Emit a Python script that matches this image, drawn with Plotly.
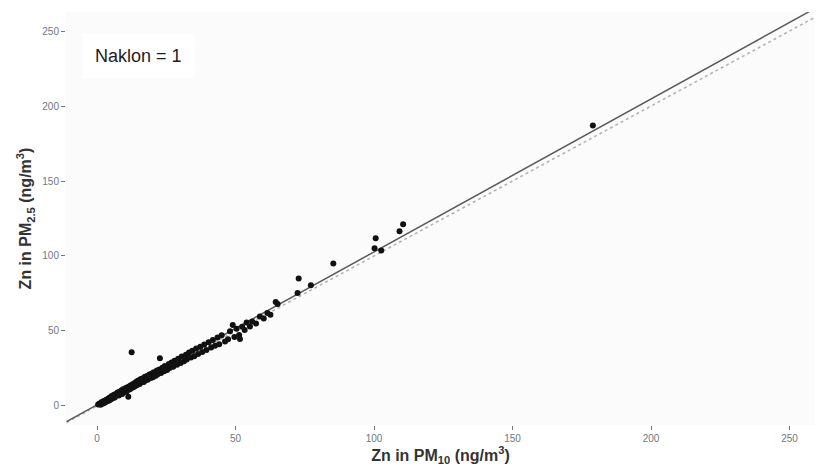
import plotly.graph_objects as go

# Zn concentrations (ng/m3): PM10 (x) vs PM2.5 (y)
zn_pm10 = [
    0.4, 0.9, 1.3, 1.7, 2.0, 2.4, 2.6, 3.1, 3.3, 3.7, 4.1, 4.4, 4.6, 5.1, 5.3, 5.8,
    6.1, 6.4, 6.8, 7.0, 7.4, 7.9, 8.1, 8.5, 8.8, 9.1, 9.4, 9.7, 10.1, 10.4, 10.6, 11.0,
    11.2, 11.3, 11.6, 11.9, 12.2, 12.5, 12.7, 13.0, 13.3, 13.6, 14.0, 14.3, 14.5, 14.9,
    15.4, 15.8, 16.0, 16.6, 16.9, 17.3, 17.5, 18.1, 18.3, 18.9, 19.4, 19.8, 20.2, 20.5,
    21.2, 21.6, 21.9, 22.7, 22.5, 23.1, 23.6, 24.2, 24.5, 25.3, 25.9, 26.2, 26.9, 27.5,
    28.0, 28.9, 29.3, 30.2, 30.6, 31.4, 32.1, 32.4, 33.2, 33.9, 34.4, 35.1, 35.8, 36.5,
    37.3, 38.0, 38.7, 39.5, 40.3, 41.2, 41.8, 42.6, 43.5, 44.1, 45.0, 46.2, 47.3, 48.0,
    49.0, 49.6, 50.4, 51.3, 51.6, 52.4, 53.3, 54.0, 55.2, 56.0, 57.4, 58.8, 60.2,
    61.5, 62.6, 64.5, 65.2, 72.4, 72.8, 77.2, 85.3, 100.2, 100.6, 102.6, 109.2,
    110.5, 179.0,
]
zn_pm25 = [
    0.9, 1.6, 0.8, 2.6, 1.5, 3.3, 2.0, 2.7, 4.2, 3.1, 5.0, 3.6, 5.6, 4.4, 6.6, 5.3,
    7.4, 5.7, 7.9, 6.9, 8.9, 7.0, 9.5, 8.2, 10.3, 8.0, 11.1, 9.4, 10.2, 12.0, 9.3, 12.4,
    10.6, 6.2, 12.9, 11.1, 13.8, 35.8, 12.1, 14.7, 12.6, 15.3, 13.4, 16.3, 14.0, 16.9,
    14.6, 17.9, 15.8, 18.4, 16.0, 19.5, 17.1, 19.9, 17.5, 21.0, 18.6, 21.6, 19.1, 22.4,
    20.2, 23.6, 21.1, 31.8, 24.3, 22.0, 25.4, 23.1, 26.6, 24.0, 27.9, 25.3, 29.0, 26.1,
    30.2, 27.4, 31.5, 28.6, 32.9, 29.8, 34.1, 31.0, 35.6, 32.3, 36.8, 33.2, 38.3, 34.7,
    39.5, 36.0, 41.0, 37.3, 42.4, 38.9, 44.0, 40.1, 45.6, 41.2, 47.1, 43.0, 44.5, 49.8,
    54.0, 46.0, 51.5, 47.3, 44.6, 52.8, 50.7, 55.6, 53.0, 56.4, 55.0, 59.6, 58.4,
    62.0, 60.9, 69.3, 68.0, 75.4, 85.0, 80.5, 95.0, 105.1, 111.9, 103.6, 116.5,
    121.2, 187.0,
]

# Fitted regression line and 1:1 reference line (endpoints)
fit_x = [-11.0, 259.0]
fit_y = [-10.5, 264.9]
ref_x = [-11.0, 259.0]
ref_y = [-11.0, 259.0]

x_ticks = [0, 50, 100, 150, 200, 250]
y_ticks = [0, 50, 100, 150, 200, 250]

fig = go.Figure()
fig.add_trace(go.Scatter(
    x=ref_x, y=ref_y, mode="lines",
    line=dict(color="#b0b4ba", width=1.6, dash="dot"), hoverinfo="skip",
))
fig.add_trace(go.Scatter(
    x=fit_x, y=fit_y, mode="lines",
    line=dict(color="#5a5a5a", width=1.5), hoverinfo="skip",
))
fig.add_trace(go.Scatter(
    x=zn_pm10, y=zn_pm25, mode="markers",
    marker=dict(color="#111111", size=6, line=dict(width=0)),
))

fig.add_annotation(
    x=0.022, y=0.95, xref="paper", yref="paper", xanchor="left", yanchor="top",
    text="Naklon = 1", showarrow=False,
    font=dict(family="Liberation Sans, Arial, sans-serif", size=18, color="#1e1e1e"),
    bgcolor="white", borderpad=12,
)

tick_font = dict(family="Liberation Sans, Arial, sans-serif", size=10, color="#6f7880")
title_font = dict(family="Liberation Sans, Arial, sans-serif", size=16, color="#333333")

fig.update_layout(
    width=822, height=474,
    margin=dict(l=66, r=7, t=12, b=49),
    paper_bgcolor="white", plot_bgcolor="#fbfbfc",
    showlegend=False,
    xaxis=dict(
        range=[-11.2, 259.2], tickvals=x_ticks, ticks="outside", ticklen=4,
        tickcolor="#6f7880", tickfont=tick_font, showgrid=False, zeroline=False,
        title=dict(text="<b>Zn in PM<sub>10</sub> (ng/m<sup>3</sup>)</b>",
                   font=title_font, standoff=5),
    ),
    yaxis=dict(
        range=[-12.7, 262.7], tickvals=y_ticks, ticks="outside", ticklen=4,
        tickcolor="#6f7880", tickfont=tick_font, showgrid=False, zeroline=False,
        title=dict(text="<b>Zn in PM<sub>2.5</sub> (ng/m<sup>3</sup>)</b>",
                   font=title_font, standoff=6),
    ),
)

fig.write_html("out.html")
